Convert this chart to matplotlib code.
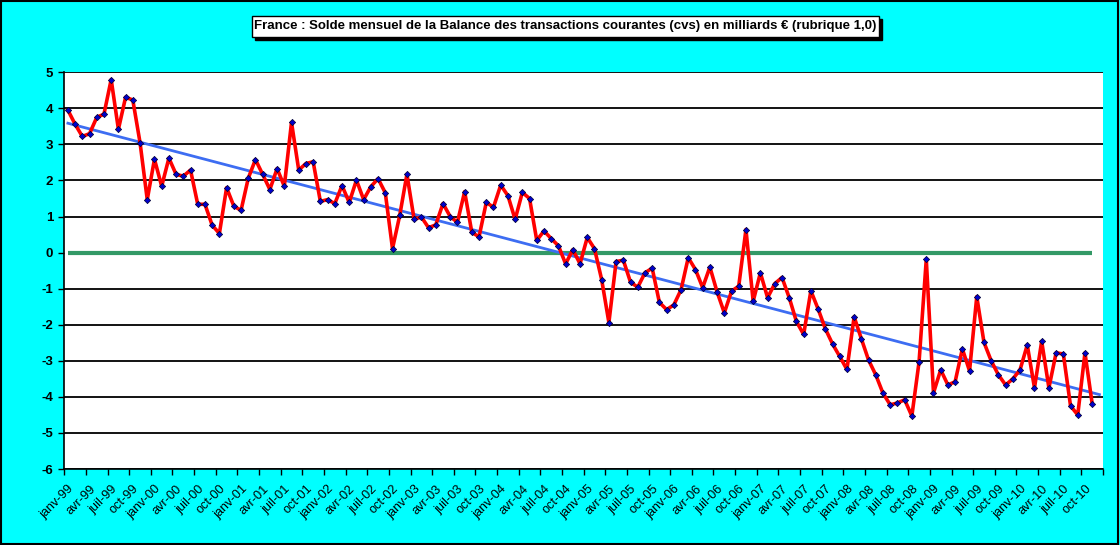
import matplotlib
matplotlib.use("Agg")
import matplotlib.pyplot as plt
import numpy as np
from matplotlib.patches import Rectangle

plt.rcParams['font.family'] = ['Liberation Sans Narrow', 'Liberation Sans', 'DejaVu Sans']

title = "France : Solde mensuel de la Balance des transactions courantes (cvs) en milliards € (rubrique 1,0)"

month_names = ["janv", "févr", "mars", "avr", "mai", "juin", "juil", "août", "sept", "oct", "nov", "déc"]
years = list(range(1999, 2011))
categories = [f"{m}-{str(y)[2:]}" for y in years for m in month_names]  # 144 months

values = [
    3.95, 3.56, 3.22, 3.30, 3.75, 3.84, 4.80, 3.42, 4.31, 4.23, 3.05, 1.47,
    2.59, 1.84, 2.62, 2.17, 2.12, 2.29, 1.34, 1.34, 0.76, 0.53, 1.80, 1.29,
    1.17, 2.06, 2.58, 2.17, 1.75, 2.33, 1.84, 3.61, 2.29, 2.47, 2.52, 1.42,
    1.47, 1.36, 1.86, 1.39, 2.01, 1.47, 1.83, 2.05, 1.66, 0.11, 1.03, 2.17,
    0.92, 0.99, 0.69, 0.77, 1.36, 1.00, 0.84, 1.69, 0.56, 0.44, 1.39, 1.26,
    1.87, 1.58, 0.92, 1.67, 1.50, 0.34, 0.60, 0.39, 0.19, -0.31, 0.08, -0.31,
    0.42, 0.11, -0.75, -1.94, -0.25, -0.21, -0.82, -0.96, -0.56, -0.43, -1.38, -1.58,
    -1.45, -1.03, -0.14, -0.47, -0.97, -0.40, -1.09, -1.67, -1.07, -0.93, 0.64, -1.35,
    -0.56, -1.25, -0.86, -0.69, -1.25, -1.91, -2.27, -1.06, -1.56, -2.11, -2.53, -2.88,
    -3.24, -1.78, -2.39, -2.98, -3.39, -3.90, -4.22, -4.17, -4.08, -4.53, -3.03, -0.19,
    -3.89, -3.25, -3.67, -3.58, -2.67, -3.28, -1.22, -2.49, -3.00, -3.39, -3.67, -3.50,
    -3.25, -2.56, -3.75, -2.46, -3.75, -2.78, -2.81, -4.25, -4.50, -2.78, -4.19,
]

y_ticks = [5, 4, 3, 2, 1, 0, -1, -2, -3, -4, -5, -6]

W, H = 1120, 545
fig = plt.figure(figsize=(W / 100, H / 100), dpi=100, facecolor="#00FFFF")

L, R, T, B = 64.3, 1103, 72.3, 469
ax = fig.add_axes([L / W, 1 - B / H, (R - L) / W, (B - T) / H])
ax.set_facecolor("white")

n = len(values)
x = np.arange(n)

# horizontal grid
for v in y_ticks:
    if v != 0:
        ax.axhline(v, color="black", lw=1.3, zorder=1)

# zero line
ax.plot([0, n - 1], [0, 0], color="#339966", lw=3, zorder=2, solid_capstyle="butt")

# trend line (linear regression)
coef = np.polyfit(x, values, 1)
xt = np.array([0, len(categories) - 1])
ax.plot(xt, np.polyval(coef, xt), color="#3D6DF2", lw=2.0, zorder=3)

# data line
ax.plot(x, values, color="#FF0000", lw=2.6, zorder=4,
        marker="D", markersize=3.2, markerfacecolor="#0000CC",
        markeredgecolor="#000033", markeredgewidth=0.5)

ax.set_xlim(-0.5, len(categories) - 0.5)
ax.set_ylim(-6, 5)

ax.set_yticks(y_ticks)
ax.set_yticklabels([str(v) for v in y_ticks], fontsize=9.5, fontweight="bold",
                   family=["Liberation Sans", "DejaVu Sans"])
ax.tick_params(axis="y", direction="out", length=4, width=1, pad=4)

major = list(range(0, len(categories), 3))
ax.set_xticks(major)
ax.set_xticklabels([categories[i] for i in major], rotation=45, ha="right", va="top",
                   rotation_mode="anchor", fontsize=9.2,
                   family=["Liberation Sans", "DejaVu Sans"])
ax.tick_params(axis="x", which="major", length=0, pad=10)
ax.set_xticks(np.arange(-0.5, len(categories), 3), minor=True)
ax.tick_params(axis="x", which="minor", direction="out", length=4, width=1)

for s in ["top", "right"]:
    ax.spines[s].set_visible(False)
ax.spines["left"].set_linewidth(1.2)
ax.spines["bottom"].set_linewidth(1.2)

# title box with shadow
bx0, by0, bx1, by1 = 252, 16, 879, 37
fig.patches.append(Rectangle(((bx0 + 3) / W, 1 - (by1 + 3) / H), (bx1 - bx0) / W, (by1 - by0) / H,
                             transform=fig.transFigure, facecolor="black", edgecolor="black", zorder=1))
fig.patches.append(Rectangle((bx0 / W, 1 - by1 / H), (bx1 - bx0) / W, (by1 - by0) / H,
                             transform=fig.transFigure, facecolor="white", edgecolor="black", lw=1, zorder=2))
fig.text((bx0 + bx1) / 2 / W, 1 - (by0 + by1) / 2 / H, title, ha="center", va="center",
         fontsize=9.55, fontweight="bold", zorder=3)

# outer border
fig.patches.append(Rectangle((0.0005, 0.001), 0.998, 0.997, transform=fig.transFigure,
                             facecolor="none", edgecolor="black", lw=1.5, zorder=5))

fig.savefig("out.png", dpi=100, facecolor=fig.get_facecolor())
